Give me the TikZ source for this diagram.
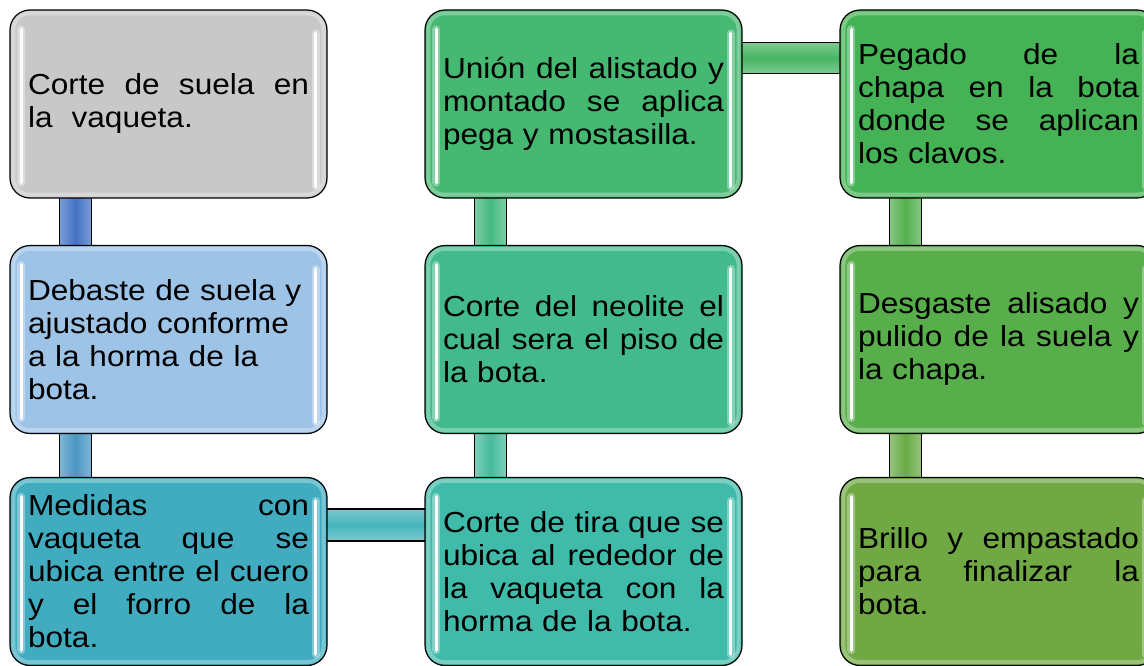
\documentclass[tikz,border=0pt]{standalone}
\usepackage{fontspec}
\setmainfont{Liberation Sans}[FakeStretch=1.09]
\pgfdeclarelayer{background}
\pgfsetlayers{background,main}
\definecolor{cA}{HTML}{C8C8C8}
\definecolor{cB}{HTML}{9DC3E6}
\definecolor{cC}{HTML}{41ACBF}
\definecolor{cD}{HTML}{40BBAA}
\definecolor{cE}{HTML}{43BA8D}
\definecolor{cF}{HTML}{45B871}
\definecolor{cG}{HTML}{45B255}
\definecolor{cH}{HTML}{58AE4A}
\definecolor{cI}{HTML}{70A843}
\definecolor{kAB}{HTML}{4472C4}
\definecolor{kBC}{HTML}{4A97C2}
\definecolor{kCD}{HTML}{44B4BC}
\definecolor{kDE}{HTML}{45BC9C}
\definecolor{kEF}{HTML}{45B980}
\definecolor{kFG}{HTML}{47B562}
\definecolor{kGH}{HTML}{53B04F}
\definecolor{kHI}{HTML}{68AB45}
\newcommand{\jl}[1]{\leavevmode\hbox to 281pt{\spaceskip=8.8pt plus 1fil\relax #1}}
\tikzset{
  stepbox/.style={draw=black, line width=1.2pt, rounded corners=20pt,
    minimum width=317pt, minimum height=188pt, inner sep=0pt,
    text width=281pt, align=left, fill=#1,
    font=\fontsize{29}{33}\selectfont},
  hl/.style={white, line width=3.5pt, line cap=round},
  hlglow/.style={white, opacity=.35, line width=8pt, line cap=round},
  vlink/.style={draw=black, line width=1.2pt, left color=#1!70!white, right color=#1!70!white, middle color=#1},
  hlink/.style={draw=black, line width=1.2pt, top color=#1!70!white, bottom color=#1!70!white, middle color=#1},
}
\newcommand{\gloss}[1]{%
  \draw[white, opacity=.3, line width=4pt, rounded corners=16pt]
    ([shift={(4pt,-4pt)}]#1.north west) rectangle ([shift={(-4pt,4pt)}]#1.south east);
  \draw[hlglow] ([xshift=12pt,yshift=-20pt]#1.north west) -- ([xshift=12pt,yshift=16pt]#1.south west);
  \draw[hl] ([xshift=12pt,yshift=-20pt]#1.north west) -- ([xshift=12pt,yshift=16pt]#1.south west);
  \draw[hlglow] ([xshift=-12pt,yshift=-24pt]#1.north east) -- ([xshift=-12pt,yshift=12pt]#1.south east);
  \draw[hl] ([xshift=-12pt,yshift=-24pt]#1.north east) -- ([xshift=-12pt,yshift=12pt]#1.south east);
}
\begin{document}
\begin{tikzpicture}[x=1pt,y=-1pt]
\useasboundingbox (0,0) rectangle (1144,666);
\clip (0,0) rectangle (1144,666);
\node[stepbox=cA] (A) at (168.5,104) {\jl{Corte de suela en}\\la\hspace{19pt}vaqueta.};
\node[stepbox=cB] (B) at (168.5,339.5) {Debaste de suela y\\ajustado conforme\\a la horma de la\\bota.};
\node[stepbox=cC] (C) at (168.5,571.5) {\jl{Medidas con}\\\jl{vaqueta que se}\\\jl{ubica entre el cuero}\\\jl{y el forro de la}\\bota.};
\node[stepbox=cD] (D) at (583.5,571.5) {\jl{Corte de tira que se}\\\jl{ubica al rededor de}\\\jl{la vaqueta con la}\\horma de la bota.};
\node[stepbox=cE] (E) at (583.5,339.5) {\jl{Corte del neolite el}\\\jl{cual sera el piso de}\\la bota.};
\node[stepbox=cF] (F) at (583.5,104) {\jl{Unión del alistado y}\\\jl{montado se aplica}\\pega y mostasilla.};
\node[stepbox=cG] (G) at (998.5,104) {\jl{Pegado de la}\\\jl{chapa en la bota}\\\jl{donde se aplican}\\los clavos.};
\node[stepbox=cH] (H) at (998.5,339.5) {\jl{Desgaste alisado y}\\\jl{pulido de la suela y}\\la chapa.};
\node[stepbox=cI] (I) at (998.5,571.5) {\jl{Brillo y empastado}\\\jl{para finalizar la}\\bota.};
\gloss{A}\gloss{B}\gloss{C}\gloss{D}\gloss{E}\gloss{F}\gloss{G}\gloss{H}\gloss{I}
\begin{pgfonlayer}{background}
\path[vlink=kAB] ([xshift=50pt,yshift=2pt]A.south west) rectangle ([xshift=82pt,yshift=-2pt]B.north west);
\path[vlink=kBC] ([xshift=50pt,yshift=2pt]B.south west) rectangle ([xshift=82pt,yshift=-2pt]C.north west);
\path[hlink=kCD] ([xshift=-2pt,yshift=-32pt]C.north east) rectangle ([xshift=2pt,yshift=-64pt]D.north west);
\path[vlink=kDE] ([xshift=50pt,yshift=-2pt]D.north west) rectangle ([xshift=82pt,yshift=2pt]E.south west);
\path[vlink=kEF] ([xshift=50pt,yshift=-2pt]E.north west) rectangle ([xshift=82pt,yshift=2pt]F.south west);
\path[hlink=kFG] ([xshift=-2pt,yshift=-33pt]F.north east) rectangle ([xshift=2pt,yshift=-64pt]G.north west);
\path[vlink=kGH] ([xshift=50pt,yshift=2pt]G.south west) rectangle ([xshift=82pt,yshift=-2pt]H.north west);
\path[vlink=kHI] ([xshift=50pt,yshift=2pt]H.south west) rectangle ([xshift=82pt,yshift=-2pt]I.north west);
\end{pgfonlayer}
\end{tikzpicture}
\end{document}
